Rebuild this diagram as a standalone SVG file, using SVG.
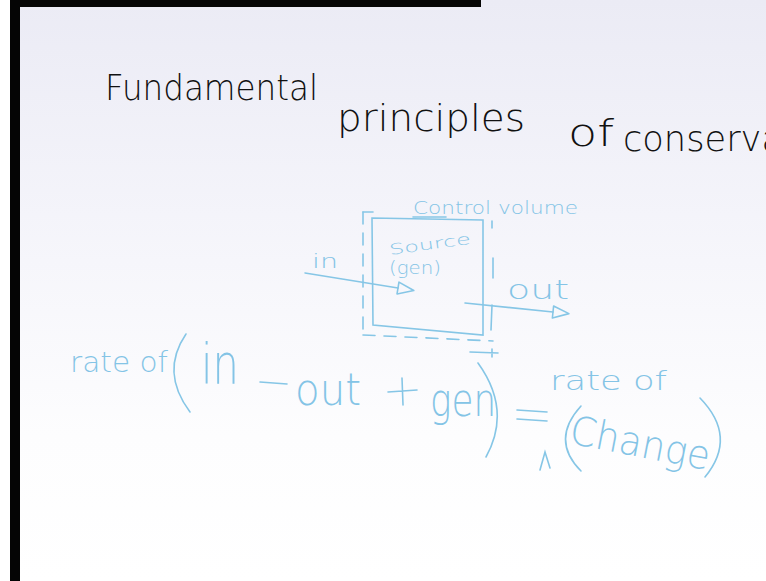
<svg xmlns="http://www.w3.org/2000/svg" width="766" height="581" viewBox="0 0 766 581">
<defs>
<linearGradient id="bg" x1="0" y1="0" x2="0" y2="1">
<stop offset="0" stop-color="#ebebf5"/>
<stop offset="0.45" stop-color="#f6f6fb"/>
<stop offset="0.75" stop-color="#fdfdfe"/>
<stop offset="1" stop-color="#ffffff"/>
</linearGradient>
<marker id="head" viewBox="0 0 20 14" refX="2" refY="7" markerWidth="20" markerHeight="14" markerUnits="userSpaceOnUse" orient="auto">
<path d="M2,1 L18,7 L2,13 Z" fill="none" stroke="#86c6e6" stroke-width="1.6" stroke-linejoin="round"/>
</marker>
<style>
.ink{font-family:"DejaVu Sans","Liberation Sans",sans-serif;font-weight:200;fill:#111111;}
.blue{font-family:"DejaVu Sans","Liberation Sans",sans-serif;font-weight:200;fill:#84c4e6;}
.bl{fill:none;stroke:#86c6e6;stroke-width:1.6;stroke-linecap:round;}
.dash{fill:none;stroke:#86c6e6;stroke-width:1.6;stroke-dasharray:12 9;stroke-linecap:round;}
</style>
</defs>
<rect x="0" y="0" width="766" height="581" fill="url(#bg)"/>
<rect x="0" y="0" width="10" height="581" fill="#ffffff"/>
<rect x="10" y="0" width="10" height="581" fill="#050505"/>
<rect x="10" y="0" width="471" height="7" fill="#050505"/>

<g id="title">
<text class="ink" x="105" y="100" font-size="36" textLength="213" lengthAdjust="spacingAndGlyphs">Fundamental</text>
<text class="ink" x="337" y="131" font-size="38" textLength="188" lengthAdjust="spacingAndGlyphs">principles</text>
<text class="ink" x="568" y="146" font-size="38" textLength="46" lengthAdjust="spacingAndGlyphs">of</text>
<text class="ink" x="623" y="151" font-size="36" textLength="160" lengthAdjust="spacingAndGlyphs">conserva</text>
</g>

<g id="control-volume">
<path class="dash" d="M363,212 L363,331"/>
<path class="bl" d="M363,212 L373,212"/>
<path class="dash" d="M363,335 L493,341"/>
<path class="bl" d="M492,221 L492,228 M493,258 L493,278 M492,305 L491,330 M470,352 L498,353 M492,349 L492,357"/>
<path class="bl" d="M372,218 L483,220 L483,335 L373,325 Z"/>
<text class="blue" x="413" y="214" font-size="17" textLength="165" lengthAdjust="spacingAndGlyphs">Control volume</text>
<path class="bl" d="M413,217 L446,217"/>
</g>

<g id="source">
<text class="blue" x="390" y="255" font-size="15" textLength="82" lengthAdjust="spacingAndGlyphs" transform="rotate(-8 390 255)">Source</text>
<text class="blue" x="389" y="274" font-size="17" textLength="52" lengthAdjust="spacingAndGlyphs">(gen)</text>
</g>

<g id="label-in">
<text class="blue" x="312" y="268" font-size="20" textLength="26" lengthAdjust="spacingAndGlyphs">in</text>
</g>

<g id="label-out">
<text class="blue" x="507" y="299" font-size="26" textLength="62" lengthAdjust="spacingAndGlyphs">out</text>
</g>

<g id="connectors">
<path class="bl" d="M305,273 L398,288" marker-end="url(#head)"/>
<path class="bl" d="M465,303 L553,312" marker-end="url(#head)"/>
</g>

<g id="equation">
<text class="blue" x="70" y="372" font-size="28" textLength="98" lengthAdjust="spacingAndGlyphs">rate of</text>
<path class="bl" d="M186,334 Q160,372 190,412"/>
<text class="blue" x="201" y="383" font-size="56" textLength="38" lengthAdjust="spacingAndGlyphs">in</text>
<path class="bl" d="M260,382 L287,384"/>
<text class="blue" x="295" y="405" font-size="44" textLength="66" lengthAdjust="spacingAndGlyphs">out</text>
<path class="bl" d="M388,392 L417,390 M402,378 L403,405"/>
<text class="blue" x="430" y="416" font-size="46" textLength="66" lengthAdjust="spacingAndGlyphs">gen</text>
<path class="bl" d="M478,363 Q512,410 486,457"/>
<path class="bl" d="M517,410 L547,412 M517,419 L547,421"/>
<path class="bl" d="M540,470 L545,452 L550,468"/>
<text class="blue" x="550" y="390" font-size="27" textLength="117" lengthAdjust="spacingAndGlyphs">rate of</text>
<path class="bl" d="M581,406 Q550,440 581,471"/>
<text class="blue" x="568" y="443" font-size="40" textLength="142" lengthAdjust="spacingAndGlyphs" transform="rotate(11 568 443)">Change</text>
<path class="bl" d="M700,398 Q738,437 705,477"/>
</g>
</svg>
